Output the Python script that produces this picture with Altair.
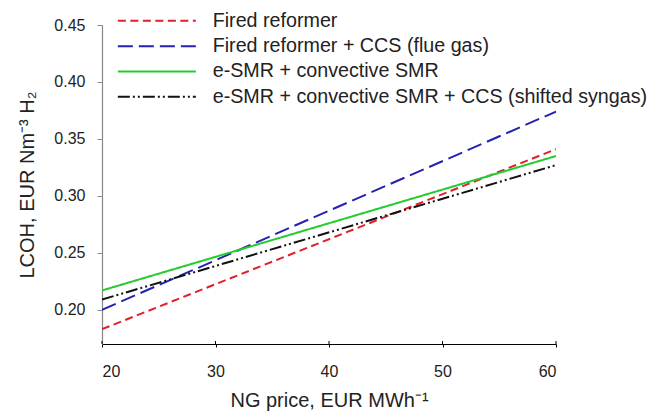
import altair as alt
import pandas as pd

series = [
    "Fired reformer",
    "Fired reformer + CCS (flue gas)",
    "e-SMR + convective SMR",
    "e-SMR + convective SMR + CCS (shifted syngas)",
]
ng_price = [20, 60]
lcoh_fired = [0.183, 0.341]
lcoh_fired_ccs = [0.200, 0.374]
lcoh_esmr = [0.217, 0.335]
lcoh_esmr_ccs = [0.209, 0.327]

colors = ["#e0202a", "#2323b0", "#22cc2e", "#111111"]
dashes = [[8, 4.5], [15, 6], [1, 0], [12, 3, 2, 3, 2, 3]]

x_ticks = [20, 30, 40, 50, 60]
y_ticks = [0.20, 0.25, 0.30, 0.35, 0.40, 0.45]

rows = []
for name, vals in zip(series, [lcoh_fired, lcoh_fired_ccs, lcoh_esmr, lcoh_esmr_ccs]):
    for xv, yv in zip(ng_price, vals):
        rows.append({"series": name, "ng": xv, "lcoh": yv})
df = pd.DataFrame(rows)

W, H = 454, 319
FONT = "Liberation Sans"

xscale = alt.Scale(domain=[20, 60], nice=False)
yscale = alt.Scale(domain=[0.17, 0.45], nice=False)

lines = alt.Chart(df).mark_line(strokeWidth=2, clip=True).encode(
    x=alt.X("ng:Q", scale=xscale,
            axis=alt.Axis(title="NG price, EUR MWh⁻¹", values=x_ticks, grid=False,
                          domainColor="#000000", tickColor="#000000", tickSize=3,
                          labelPadding=16, titlePadding=11)),
    y=alt.Y("lcoh:Q", scale=yscale,
            axis=alt.Axis(title="LCOH, EUR Nm⁻³ H₂", values=y_ticks, format=".2f", grid=False,
                          domainColor="#888888", tickColor="#888888", tickSize=5,
                          labelPadding=12, titlePadding=16)),
    color=alt.Color("series:N", sort=series,
                    scale=alt.Scale(domain=series, range=colors),
                    legend=alt.Legend(title=None, orient="none", legendX=45, legendY=-14,
                                      symbolType="M-6,0H6", symbolSize=169,
                                      symbolStrokeWidth=2, labelFontSize=19.7,
                                      labelFont=FONT, labelColor="#222222",
                                      labelOffset=46, rowPadding=4.3, labelLimit=600)),
    strokeDash=alt.StrokeDash("series:N", sort=series,
                              scale=alt.Scale(domain=series, range=dashes),
                              legend=None),
)

tick_df = pd.DataFrame({"ng": x_ticks})
inner_ticks = alt.Chart(tick_df).mark_rule(color="#000000", strokeWidth=1).encode(
    x=alt.X("ng:Q", scale=xscale),
    y=alt.value(H - 3),
    y2=alt.value(H),
)

chart = alt.layer(lines, inner_ticks).properties(
    width=W, height=H,
    autosize=alt.AutoSizeParams(type="none"),
    padding={"left": 94, "top": 17, "right": 100, "bottom": 70},
).configure_view(stroke=None).configure_axis(
    labelFont=FONT, titleFont=FONT, labelFontSize=16, titleFontSize=20,
    labelColor="#222222", titleColor="#222222", titleFontWeight="normal",
    domainWidth=1.2,
).configure_legend(labelFont=FONT)

chart.save("out.html", embed_options={"renderer": "svg", "actions": False})
